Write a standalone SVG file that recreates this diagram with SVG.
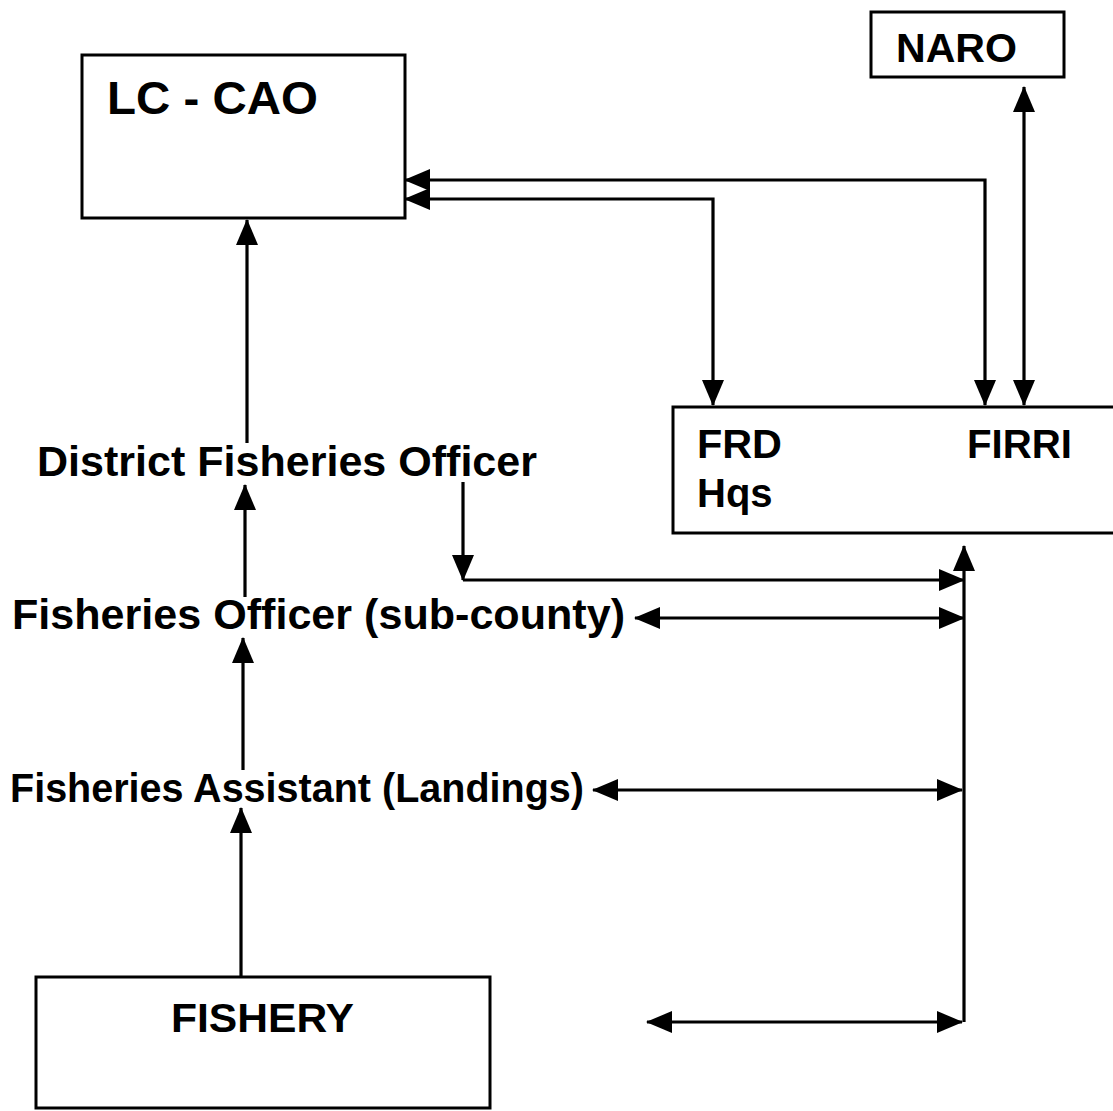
<svg xmlns="http://www.w3.org/2000/svg" width="1113" height="1111" viewBox="0 0 1113 1111">
<style>
.box{fill:#fff;stroke:#000;stroke-width:3}
.t{font-family:"Liberation Sans",Arial,sans-serif;font-weight:bold;fill:#000}
.c{fill:none;stroke:#000;stroke-width:3.2}
</style>
<defs>
<marker id="ah" markerUnits="userSpaceOnUse" markerWidth="26" markerHeight="22" viewBox="0 0 26 22" refX="25" refY="11" orient="auto-start-reverse">
<path d="M0,0 L26,11 L0,22 z" fill="#000"/>
</marker>
</defs>
<rect width="1113" height="1111" fill="#fff"/>
<g id="lc-cao">
<rect class="box" x="82" y="55" width="323" height="163"/>
<text class="t" x="107" y="114" font-size="47" textLength="211" lengthAdjust="spacingAndGlyphs">LC - CAO</text>
</g>
<g id="naro">
<rect class="box" x="871" y="12" width="193" height="65"/>
<text class="t" x="896" y="62" font-size="40" textLength="121" lengthAdjust="spacingAndGlyphs">NARO</text>
</g>
<g id="frd-firri">
<rect class="box" x="673" y="407" width="460" height="126"/>
<text class="t" x="697" y="458" font-size="40" textLength="85" lengthAdjust="spacingAndGlyphs">FRD</text>
<text class="t" x="697" y="507" font-size="40">Hqs</text>
<text class="t" x="967" y="458" font-size="40" textLength="105" lengthAdjust="spacingAndGlyphs">FIRRI</text>
</g>
<g id="district">
<text class="t" x="37" y="476" font-size="43" textLength="500" lengthAdjust="spacingAndGlyphs">District Fisheries Officer</text>
</g>
<g id="subcounty">
<text class="t" x="12" y="629" font-size="43" textLength="613" lengthAdjust="spacingAndGlyphs">Fisheries Officer (sub-county)</text>
</g>
<g id="assistant">
<text class="t" x="10" y="802" font-size="41" textLength="574" lengthAdjust="spacingAndGlyphs">Fisheries Assistant (Landings)</text>
</g>
<g id="fishery">
<rect class="box" x="36" y="977" width="454" height="131"/>
<text class="t" x="171" y="1032" font-size="41" textLength="183" lengthAdjust="spacingAndGlyphs">FISHERY</text>
</g>
<g id="connectors">
<path class="c" d="M985,405 V180 H405" marker-start="url(#ah)" marker-end="url(#ah)"/>
<path class="c" d="M713,405 V199 H405" marker-start="url(#ah)" marker-end="url(#ah)"/>
<path class="c" d="M1024,405 V87" marker-start="url(#ah)" marker-end="url(#ah)"/>
<path class="c" d="M964,1022 V546" marker-end="url(#ah)"/>
<path class="c" d="M463,482 V580" marker-end="url(#ah)"/>
<path class="c" d="M463,580 H964" marker-end="url(#ah)"/>
<path class="c" d="M635,618 H964" marker-start="url(#ah)" marker-end="url(#ah)"/>
<path class="c" d="M593,790 H962" marker-start="url(#ah)" marker-end="url(#ah)"/>
<path class="c" d="M647,1022 H962" marker-start="url(#ah)" marker-end="url(#ah)"/>
<path class="c" d="M247,443 V220" marker-end="url(#ah)"/>
<path class="c" d="M245,597 V485" marker-end="url(#ah)"/>
<path class="c" d="M243,770 V638" marker-end="url(#ah)"/>
<path class="c" d="M241,977 V808" marker-end="url(#ah)"/>
</g>
</svg>
